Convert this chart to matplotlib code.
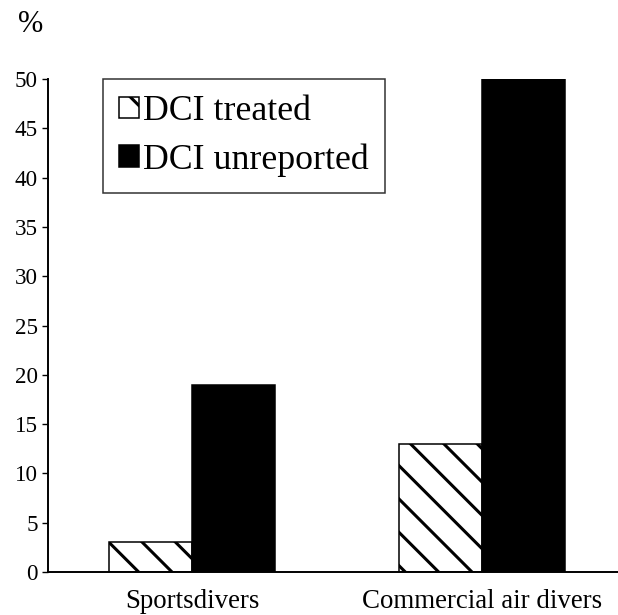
import numpy as np
import matplotlib.pyplot as plt

groups = ['Sportsdivers', 'Commercial air divers']
treated = [3, 13]
unreported = [19, 50]
yticks = [0, 5, 10, 15, 20, 25, 30, 35, 40, 45, 50]

plt.rcParams['font.family'] = ['Liberation Serif', 'DejaVu Serif']
plt.rcParams['hatch.linewidth'] = 1.1
plt.rcParams['hatch.color'] = 'black'

# high dpi so the hatch spacing comes out wide
fig = plt.figure(figsize=(6.18 / 2, 6.15 / 2), dpi=200)
ax = fig.add_axes([48 / 618, 43 / 615, 570 / 618, 493 / 615])

x = np.arange(len(groups))
w = 0.286
ax.bar(x - w / 2, treated, w, facecolor='white', edgecolor='black',
       linewidth=0.55, hatch='\\\\', label='DCI treated')
ax.bar(x + w / 2, unreported, w, facecolor='black', edgecolor='black',
       linewidth=0.55, label='DCI unreported')

ax.set_xlim(-0.4966, 1.469)
ax.set_ylim(0, 50)
ax.set_yticks(yticks)
ax.set_xticks(x)
ax.set_xticklabels(groups, fontsize=9.7)
ax.tick_params(axis='y', length=2.2, width=0.5, pad=1.5, labelsize=8.3)
ax.tick_params(axis='x', length=0, pad=6.3)
for s in ['top', 'right']:
    ax.spines[s].set_visible(False)
for s in ['left', 'bottom']:
    ax.spines[s].set_linewidth(0.7)

leg = ax.legend(loc='upper left', bbox_to_anchor=(0.0965, 1.0), borderaxespad=0,
                fontsize=12.9, frameon=True, fancybox=False, edgecolor='black',
                handlelength=0.55, handleheight=0.55, handletextpad=0.12,
                labelspacing=0.42, borderpad=0.45)
leg.get_frame().set_linewidth(0.55)

fig.text(31 / 618, 1 - 25 / 615, '%', fontsize=11, ha='center', va='center')

fig.savefig('out.png', dpi=200)
